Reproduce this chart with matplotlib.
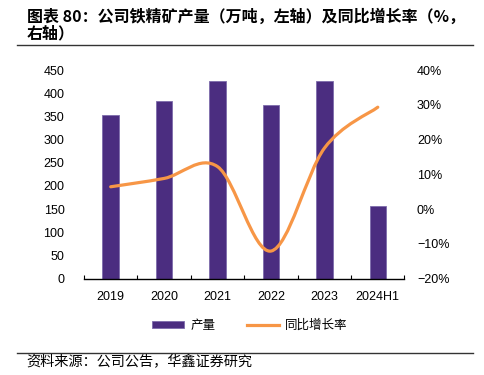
import numpy as np
import matplotlib.pyplot as plt
from matplotlib.path import Path
from matplotlib.patches import PathPatch
from matplotlib.lines import Line2D
from matplotlib.patches import Patch

plt.rcParams['font.family'] = ['Liberation Sans', 'Noto Sans CJK SC', 'DejaVu Sans']
plt.rcParams['axes.unicode_minus'] = True

# ---------------- dados ----------------
anos = ["2019", "2020", "2021", "2022", "2023", "2024H1"]
producao = [353, 382.5, 426, 374.5, 425.5, 156]        # 万吨
crescimento = [6.4, 8.8, 12.2, -12.1, 17.5, 29.3]      # %

cor_barra = "#4b2d80"
cor_linha = "#f79646"
cjk = ['Noto Sans CJK SC', 'DejaVu Sans']

fig = plt.figure(figsize=(4.85, 3.75), dpi=100)
ax = fig.add_axes([0.1732, 0.2573, 0.6608, 0.556])
ax2 = ax.twinx()

x = np.arange(len(anos))
ax.bar(x, producao, width=0.31, color=cor_barra, edgecolor="#7d6cab", linewidth=0.6, zorder=2)

ax.set_xlim(-0.5, len(anos) - 0.5)
ax.set_ylim(0, 450)
ax.set_yticks(np.arange(0, 451, 50))
ax.set_xticks(x)
ax.set_xticklabels(anos)
ax.set_xticks(np.arange(-0.5, len(anos)), minor=True)
ax.tick_params(axis='x', which='major', length=0, pad=9, labelsize=9)
ax.tick_params(axis='x', which='minor', length=3, direction='in', width=0.8)
ax.tick_params(axis='y', length=0, pad=14, labelsize=9)

ax2.set_ylim(-20, 40)
ax2.set_yticks(np.arange(-20, 41, 10))
ax2.set_yticklabels([f"{v}%".replace("-", "\u2212") for v in range(-20, 41, 10)])
ax2.tick_params(axis='y', length=0, pad=9, labelsize=9)

for a in (ax, ax2):
    for s in ("top", "left", "right"):
        a.spines[s].set_visible(False)
ax2.spines["bottom"].set_visible(False)
ax.spines["bottom"].set_linewidth(1.0)
ax.spines["bottom"].set_color("black")

# linha suavizada (bezier tipo Excel)
pts = np.column_stack([x, crescimento]).astype(float)
verts = [tuple(pts[0])]
codes = [Path.MOVETO]
n = len(pts)
for i in range(n - 1):
    p0 = pts[max(i - 1, 0)]
    p1 = pts[i]
    p2 = pts[i + 1]
    p3 = pts[min(i + 2, n - 1)]
    c1 = p1 + (p2 - p0) / 6.0
    c2 = p2 - (p3 - p1) / 6.0
    verts += [tuple(c1), tuple(c2), tuple(p2)]
    codes += [Path.CURVE4] * 3
curva = PathPatch(Path(verts, codes), fill=False, edgecolor=cor_linha,
                  linewidth=2.3, capstyle='round', transform=ax2.transData, zorder=3)
ax2.add_patch(curva)

# legenda
handles = [Patch(facecolor=cor_barra, edgecolor="#7d6cab", linewidth=0.6),
           Line2D([0], [0], color=cor_linha, linewidth=2.3)]
fig.legend(handles, ["产量", "同比增长率"], loc='center', bbox_to_anchor=(0.515, 0.133),
           ncol=2, frameon=False, prop={'family': cjk, 'size': 9},
           handlelength=2.6, handleheight=0.5, columnspacing=2.5, handletextpad=0.5)

# titulo e fonte
fig.text(0.055, 0.957, "图表 80：公司铁精矿产量（万吨，左轴）及同比增长率（%，",
         family=cjk, fontsize=11.5, fontweight='bold', va='center', ha='left')
fig.text(0.055, 0.91, "右轴）", family=cjk, fontsize=11.5, fontweight='bold',
         va='center', ha='left')
fig.add_artist(Line2D([0.035, 0.975], [0.881, 0.881], color="#333333", linewidth=1.0))
fig.add_artist(Line2D([0.035, 0.975], [0.059, 0.059], color="#333333", linewidth=1.0))
fig.text(0.055, 0.035, "资料来源：公司公告，华鑫证券研究", family=cjk, fontsize=10.2,
         va='center', ha='left')

fig.savefig("out.png", dpi=100)
